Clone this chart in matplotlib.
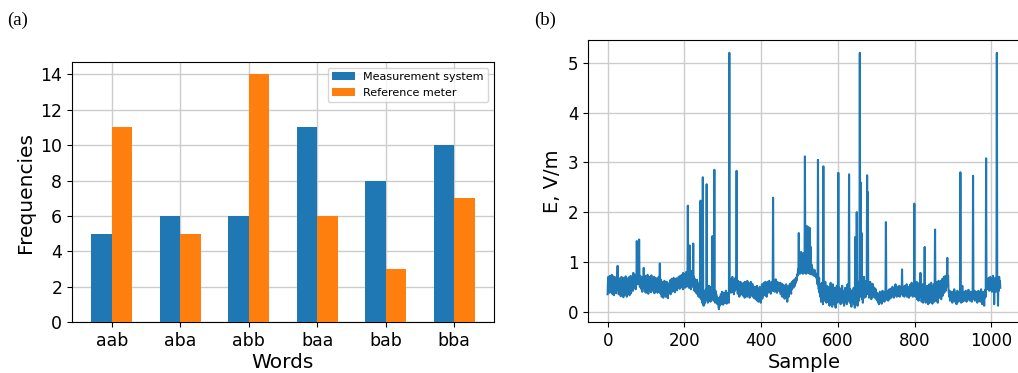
import numpy as np
import matplotlib
matplotlib.use("Agg")
import matplotlib.pyplot as plt

# (a) word frequencies
words = ["aab", "aba", "abb", "baa", "bab", "bba"]
measurement_system = [5, 6, 6, 11, 8, 10]
reference_meter = [11, 5, 14, 6, 3, 7]

# (b) field strength per sample (32 samples per row)
field_strength = [
    0.35, 0.62, 0.70, 0.45, 0.66, 0.38, 0.72, 0.55, 0.41, 0.68, 0.50, 0.74, 0.36, 0.60, 0.47, 0.71,
    0.33, 0.58, 0.64, 0.40, 0.69, 0.52, 0.37, 0.63, 0.48, 0.70, 0.92, 0.44, 0.61, 0.35, 0.67, 0.50,
    0.42, 0.66, 0.31, 0.58, 0.70, 0.45, 0.36, 0.62, 0.53, 0.29, 0.68, 0.47, 0.60, 0.34, 0.55, 0.71,
    0.40, 0.63, 0.30, 0.57, 0.66, 0.44, 0.38, 0.69, 0.51, 0.33, 0.64, 0.48, 0.72, 0.37, 0.59, 0.45,
    0.55, 0.70, 0.42, 0.78, 0.60, 0.48, 0.66, 0.52, 0.74, 0.45, 0.63, 0.58, 1.42, 0.70, 0.55, 0.80,
    0.62, 0.75, 1.45, 0.68, 0.50, 0.72, 0.58, 0.46, 0.70, 0.62, 0.40, 0.66, 0.55, 0.48, 0.88, 0.52,
    0.64, 0.40, 0.72, 0.55, 0.38, 0.68, 0.60, 0.45, 0.74, 0.50, 0.36, 0.66, 0.58, 0.43, 0.70, 0.52,
    0.62, 0.39, 0.73, 0.48, 0.57, 0.65, 0.42, 0.60, 0.53, 0.70, 0.37, 0.63, 0.49, 0.68, 0.44, 0.59,
    0.50, 0.66, 0.38, 0.62, 0.45, 0.70, 0.41, 0.58, 0.97, 0.55, 0.36, 0.64, 0.47, 0.30, 0.60, 0.42,
    0.55, 0.28, 0.52, 0.40, 0.62, 0.33, 0.48, 0.57, 0.30, 0.45, 0.60, 0.35, 0.50, 0.27, 0.54, 0.42,
    0.38, 0.58, 0.44, 0.63, 0.35, 0.52, 0.47, 0.66, 0.40, 0.55, 0.60, 0.42, 0.68, 0.48, 0.57, 0.39,
    0.62, 0.51, 0.45, 0.67, 0.53, 0.43, 0.64, 0.56, 0.48, 0.70, 0.52, 0.61, 0.46, 0.72, 0.55, 0.63,
    0.50, 0.74, 0.58, 0.66, 0.45, 0.78, 0.60, 0.52, 0.70, 0.48, 0.76, 0.62, 0.55, 0.80, 0.50, 0.68,
    0.58, 2.13, 0.62, 0.75, 0.48, 0.70, 1.33, 0.56, 0.72, 0.45, 0.66, 0.58, 0.82, 0.50, 0.64, 1.37,
    0.55, 0.70, 0.42, 0.66, 0.50, 0.62, 0.38, 0.58, 0.47, 0.64, 0.35, 0.55, 0.44, 0.30, 0.52, 0.40,
    0.60, 0.28, 2.23, 0.45, 0.25, 0.58, 0.18, 0.38, 2.70, 0.22, 0.12, 0.35, 0.15, 0.42, 0.20, 0.33,
    0.45, 0.25, 2.56, 0.30, 0.48, 0.18, 0.40, 0.28, 0.52, 0.22, 0.36, 0.45, 0.20, 0.50, 0.32, 0.26,
    0.55, 1.52, 0.35, 0.48, 0.22, 0.40, 2.85, 0.30, 0.18, 0.42, 0.25, 0.35, 0.20, 0.30, 0.15, 0.28,
    0.22, 0.10, 0.05, 0.25, 0.12, 0.30, 0.18, 0.35, 0.15, 0.28, 0.40, 0.20, 0.32, 0.14, 0.38, 0.24,
    0.30, 0.18, 0.36, 0.22, 0.42, 0.26, 0.16, 0.34, 0.20, 0.38, 0.25, 0.30, 0.18, 5.20, 0.45, 0.60,
    0.52, 0.38, 0.66, 0.45, 0.58, 0.70, 0.40, 0.62, 0.48, 0.35, 0.64, 0.55, 0.42, 0.68, 0.50, 0.60,
    2.83, 0.46, 0.58, 0.36, 0.62, 0.44, 0.55, 0.30, 0.50, 0.40, 0.60, 0.34, 0.48, 0.56, 0.38, 0.52,
    0.45, 0.32, 0.58, 0.40, 0.52, 0.28, 0.60, 0.44, 0.36, 0.55, 0.48, 0.30, 0.62, 0.42, 0.50, 0.35,
    0.57, 0.46, 0.28, 0.53, 0.40, 0.60, 0.33, 0.49, 0.42, 0.56, 0.30, 0.51, 0.38, 0.45, 0.27, 0.50,
    0.35, 0.48, 0.25, 0.42, 0.30, 0.52, 0.22, 0.38, 0.45, 0.20, 0.40, 0.28, 0.50, 0.24, 0.36, 0.18,
    0.44, 0.30, 0.55, 0.26, 0.40, 0.48, 0.32, 0.58, 0.38, 0.50, 0.35, 0.60, 0.42, 0.55, 0.30, 0.52,
    0.45, 0.60, 0.38, 0.55, 0.48, 0.62, 0.40, 0.58, 0.50, 0.36, 0.56, 0.44, 0.60, 0.52, 0.42, 2.29,
    0.55, 0.48, 0.62, 0.40, 0.58, 0.50, 0.65, 0.45, 0.56, 0.38, 0.60, 0.48, 0.54, 0.42, 0.58, 0.46,
    0.52, 0.40, 0.58, 0.35, 0.50, 0.44, 0.56, 0.30, 0.48, 0.38, 0.54, 0.32, 0.46, 0.26, 0.50, 0.36,
    0.42, 0.55, 0.28, 0.45, 0.20, 0.40, 0.34, 0.52, 0.30, 0.46, 0.38, 0.56, 0.42, 0.50, 0.36, 0.58,
    0.45, 0.60, 0.50, 0.62, 0.48, 0.58, 0.55, 0.65, 0.52, 0.60, 0.58, 0.68, 0.62, 0.70, 0.75, 0.72,
    0.85, 0.78, 1.58, 0.80, 1.05, 0.76, 0.95, 0.82, 1.20, 0.78, 1.10, 0.80, 0.92, 0.76, 1.18, 0.82,
    0.90, 0.78, 3.12, 0.85, 1.00, 0.76, 1.25, 1.72, 0.80, 1.50, 0.78, 1.70, 0.90, 1.15, 0.76, 1.68,
    0.82, 1.30, 0.75, 0.95, 0.78, 0.88, 0.74, 0.82, 0.76, 0.80, 0.72, 0.84, 0.75, 0.78, 0.70, 0.76,
    0.72, 0.65, 0.70, 0.55, 3.05, 0.60, 0.45, 0.68, 0.38, 0.55, 0.30, 0.50, 0.20, 0.42, 0.58, 0.25,
    0.48, 0.15, 2.92, 0.35, 0.55, 0.22, 0.45, 0.60, 0.28, 0.40, 0.18, 0.52, 0.32, 0.46, 0.20, 0.38,
    0.25, 0.50, 0.12, 0.40, 0.30, 0.58, 0.18, 0.35, 0.45, 0.10, 0.32, 0.55, 0.22, 0.40, 0.15, 0.48,
    0.28, 0.36, 0.08, 0.42, 0.25, 0.52, 0.18, 0.30, 0.45, 2.79, 0.35, 0.20, 0.48, 0.28, 0.40, 0.15,
    0.30, 0.45, 0.22, 0.52, 0.18, 0.35, 0.28, 0.42, 0.12, 0.38, 0.25, 0.48, 0.20, 0.33, 0.40, 0.15,
    0.30, 0.55, 0.22, 0.36, 0.28, 2.76, 0.32, 0.18, 0.45, 0.25, 0.38, 0.10, 0.30, 0.42, 0.20, 0.35,
    0.25, 0.48, 0.15, 0.40, 0.08, 1.50, 0.30, 0.55, 0.20, 2.00, 0.35, 0.12, 0.45, 0.28, 0.60, 0.22,
    0.40, 5.20, 0.50, 2.60, 0.30, 0.45, 1.58, 0.25, 0.60, 0.18, 0.52, 0.35, 0.70, 0.28, 0.48, 0.40,
    0.55, 0.30, 0.62, 0.45, 2.74, 0.50, 2.40, 0.35, 0.58, 0.28, 0.48, 0.40, 0.60, 0.32, 0.52, 0.25,
    0.45, 0.38, 0.56, 0.30, 0.50, 0.42, 0.35, 0.48, 0.28, 0.40, 0.32, 0.45, 0.25, 0.38, 0.30, 0.22,
    0.35, 0.18, 0.30, 0.15, 0.28, 0.40, 0.20, 0.32, 0.25, 0.38, 0.16, 0.30, 0.42, 0.22, 0.34, 0.26,
    0.40, 0.20, 0.36, 0.28, 0.44, 1.80, 0.30, 0.24, 0.38, 0.28, 0.42, 0.22, 0.35, 0.30, 0.45, 0.26,
    0.40, 0.30, 0.46, 0.28, 0.42, 0.35, 0.50, 0.32, 0.38, 0.45, 0.28, 0.40, 0.36, 0.48, 0.55, 0.34,
    0.42, 0.30, 0.46, 0.38, 0.50, 0.32, 0.44, 0.36, 0.52, 0.30, 0.40, 0.46, 0.35, 0.48, 0.38, 0.85,
    0.42, 0.32, 0.50, 0.36, 0.45, 0.30, 0.52, 0.40, 0.34, 0.48, 0.38, 0.55, 0.30, 0.44, 0.36, 0.50,
    0.42, 0.28, 0.46, 0.38, 0.54, 0.32, 0.48, 0.40, 0.58, 0.35, 0.45, 0.30, 0.52, 0.42, 0.38, 2.17,
    0.45, 0.55, 0.30, 0.50, 0.38, 0.60, 0.25, 0.48, 0.35, 0.52, 0.22, 0.44, 0.58, 0.30, 0.40, 0.78,
    0.32, 0.50, 0.20, 0.45, 0.36, 0.55, 0.18, 0.42, 0.30, 0.50, 1.30, 0.25, 0.40, 0.18, 0.46, 0.30,
    0.52, 0.20, 0.40, 0.15, 0.48, 0.28, 0.55, 0.18, 0.36, 0.45, 0.22, 0.58, 0.30, 0.42, 0.16, 0.50,
    0.25, 0.38, 0.55, 0.20, 0.45, 1.65, 0.32, 0.60, 0.22, 0.48, 0.35, 0.56, 0.18, 0.44, 0.62, 0.30,
    0.50, 0.28, 0.58, 0.35, 0.62, 0.25, 0.55, 0.40, 0.66, 0.32, 0.60, 0.45, 0.70, 0.38, 0.64, 0.48,
    0.72, 0.42, 0.68, 0.50, 0.75, 1.08, 0.55, 0.72, 0.45, 0.38, 0.30, 0.42, 0.22, 0.36, 0.28, 0.40,
    0.25, 0.35, 0.18, 0.40, 0.28, 0.32, 0.22, 0.45, 0.30, 0.20, 0.38, 0.26, 0.34, 0.15, 0.30, 0.42,
    0.24, 0.36, 0.20, 0.32, 0.28, 0.40, 0.22, 2.80, 0.30, 0.18, 0.38, 0.26, 0.52, 0.20, 0.34, 0.28,
    0.36, 0.22, 0.40, 0.30, 0.25, 0.42, 0.32, 0.20, 0.38, 0.28, 0.35, 0.24, 0.44, 0.30, 0.26, 0.38,
    0.22, 0.34, 0.40, 0.28, 0.32, 0.20, 0.36, 0.30, 2.73, 0.25, 0.38, 0.30, 0.42, 0.22, 0.35, 0.28,
    0.40, 0.25, 0.34, 0.18, 0.38, 0.30, 0.42, 0.22, 0.35, 0.28, 0.40, 0.20, 0.32, 0.45, 0.26, 0.36,
    0.15, 0.30, 0.40, 0.24, 0.34, 0.12, 0.38, 0.28, 0.44, 0.30, 3.08, 0.55, 0.45, 0.65, 0.50, 0.60,
    0.48, 0.68, 0.42, 0.62, 0.55, 0.70, 0.45, 0.58, 0.66, 0.40, 0.60, 0.52, 0.72, 0.44, 0.64, 0.15,
    0.56, 0.48, 0.68, 0.40, 0.62, 0.50, 5.20, 0.45, 0.65, 0.12, 0.58, 0.42, 0.70, 0.50, 0.62, 0.48,
]

fig = plt.figure(figsize=(10.18, 3.73), dpi=100)

# left panel
ax1 = fig.add_axes([0.0707, 0.1367, 0.4145, 0.697])
x = np.arange(len(words))
w = 0.3
ax1.bar(x - w/2, measurement_system, w, color="tab:blue", label="Measurement system", zorder=3)
ax1.bar(x + w/2, reference_meter, w, color="tab:orange", label="Reference meter", zorder=3)
ax1.set_xticks(x)
ax1.set_xticklabels(words)
ax1.set_yticks(range(0, 15, 2))
ax1.tick_params(labelsize=12.5)
ax1.set_xlabel("Words", fontsize=14.5, labelpad=2)
ax1.set_ylabel("Frequencies", fontsize=14.5)
ax1.grid(True, color="#cccccc", linewidth=1, zorder=0)
ax1.set_axisbelow(True)
ax1.legend(loc="upper right", fontsize=8)

# right panel
ax2 = fig.add_axes([0.5776, 0.1367, 0.4243, 0.756])
ax2.plot(np.arange(len(field_strength)), field_strength, color="tab:blue", linewidth=1.5)
ax2.tick_params(labelsize=12)
ax2.set_xlabel("Sample", fontsize=14, labelpad=2)
ax2.set_ylabel("E, V/m", fontsize=14)
ax2.grid(True, color="#cccccc", linewidth=1)

fig.text(0.007, 0.946, "(a)", fontsize=13.5, family="Liberation Serif", va="center")
fig.text(0.525, 0.946, "(b)", fontsize=13.5, family="Liberation Serif", va="center")

fig.savefig("out.png", dpi=100)
